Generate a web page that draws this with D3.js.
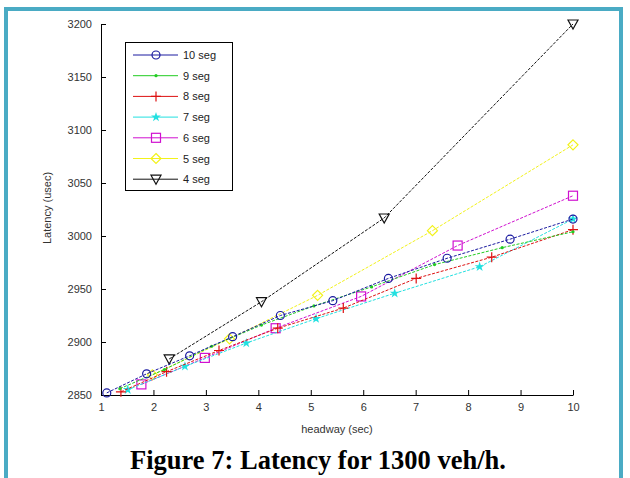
<!DOCTYPE html>
<html>
<head>
<meta charset="utf-8">
<script src="https://cdn.jsdelivr.net/npm/d3@7"></script>
<style>
body { margin:0; background:#ffffff; }
svg { display:block; }
</style>
</head>
<body>
<svg id="chart"></svg>
<script>
// the data, one array per series
var seg10X = [1.11,1.87,2.69,3.51,4.42,5.42,6.48,7.6,8.8,10];
var seg10Y = [2852,2870,2887,2905,2925,2939,2960,2979,2997,3016];
var seg9X = [1.36,2.21,3.11,4.06,5.06,6.16,7.36,8.65,10];
var seg9Y = [2856,2874,2896,2916,2934,2952,2973,2989,3004];
var seg8X = [1.38,2.25,3.25,4.37,5.62,7.01,8.45,10];
var seg8Y = [2853,2872,2892,2913,2932,2960,2980,3006];
var seg7X = [1.51,2.6,3.77,5.1,6.6,8.22,10];
var seg7Y = [2855,2877,2899,2922,2946,2971,3016];
var seg6X = [1.77,2.98,4.33,5.96,7.8,10];
var seg6Y = [2860,2885,2913,2943,2991,3038];
var seg5X = [1.98,3.45,5.13,7.32,10];
var seg5Y = [2869,2903,2944,3005,3086];
var seg4X = [2.3,4.06,6.4,10];
var seg4Y = [2884,2938,3017,3200];

var seriesNames = ["10 seg","9 seg","8 seg","7 seg","6 seg","5 seg","4 seg"];
var seriesX = [seg10X,seg9X,seg8X,seg7X,seg6X,seg5X,seg4X];
var seriesY = [seg10Y,seg9Y,seg8Y,seg7Y,seg6Y,seg5Y,seg4Y];
var seriesColors = ["#1a1aa0","#22cc22","#dd1111","#22e0e0","#d010d0","#f2f21a","#111111"];
var seriesMarkers = ["circle","dot","plus","star","square","diamond","triangle"];

var xTicks = [1,2,3,4,5,6,7,8,9,10];
var yTicks = [2850,2900,2950,3000,3050,3100,3150,3200];

var screen = {width:630, height:478};
var margins = {top:24, left:101, right:57, bottom:83};
var graph = {
    width:screen.width-margins.left-margins.right,
    height:screen.height-margins.top-margins.bottom
};

var svg = d3.select("#chart")
    .attr("width",screen.width)
    .attr("height",screen.height);

// teal frame round the figure (open at the bottom)
svg.append("rect")
    .attr("x",6).attr("y",9)
    .attr("width",615).attr("height",520)
    .attr("fill","none")
    .attr("stroke","#4aabc4")
    .attr("stroke-width",4);

var xScale = d3.scaleLinear().domain([1,10]).range([0,graph.width]);
var yScale = d3.scaleLinear().domain([2850,3200]).range([graph.height,0]);

var g = svg.append("g")
    .attr("transform","translate("+margins.left+","+margins.top+")");

// axes, matlab style ticks pointing inwards
var xAxis = d3.axisBottom(xScale).tickValues(xTicks).tickFormat(d3.format("d"))
    .tickSizeInner(-5).tickSizeOuter(0).tickPadding(8);
var yAxis = d3.axisLeft(yScale).tickValues(yTicks).tickFormat(d3.format("d"))
    .tickSizeInner(-5).tickSizeOuter(0).tickPadding(8);

var gx = g.append("g")
    .attr("transform","translate(0,"+graph.height+")")
    .call(xAxis);
var gy = g.append("g").call(yAxis);

[gx,gy].forEach(function(a)
{
    a.selectAll("text")
        .attr("font-family","Liberation Sans, Arial, sans-serif")
        .attr("font-size",11)
        .attr("fill","#333");
    a.select(".domain").attr("stroke","#000");
    a.selectAll(".tick line").attr("stroke","#000");
});
gy.selectAll("text").attr("dx",-1);

// axis titles
svg.append("text")
    .attr("x",margins.left+xScale(5.5))
    .attr("y",433)
    .attr("text-anchor","middle")
    .attr("font-family","Liberation Sans, Arial, sans-serif")
    .attr("font-size",11)
    .attr("fill","#333")
    .text("headway (sec)");

svg.append("text")
    .attr("transform","translate(51,208) rotate(-90)")
    .attr("text-anchor","middle")
    .attr("font-family","Liberation Sans, Arial, sans-serif")
    .attr("font-size",11)
    .attr("fill","#333")
    .text("Latency (usec)");

// draws one marker at (x,y)
var drawMarker = function(sel,type,color,x,y)
{
    if (type=="circle")
    {
        sel.append("circle").attr("cx",x).attr("cy",y).attr("r",4)
            .attr("fill","none").attr("stroke",color).attr("stroke-width",1.2);
    }
    else if (type=="dot")
    {
        sel.append("circle").attr("cx",x).attr("cy",y).attr("r",1.6)
            .attr("fill",color);
    }
    else if (type=="plus")
    {
        sel.append("path")
            .attr("d","M"+(x-5)+","+y+"H"+(x+5)+"M"+x+","+(y-5)+"V"+(y+5))
            .attr("stroke",color).attr("stroke-width",1.2);
    }
    else if (type=="star")
    {
        sel.append("path")
            .attr("transform","translate("+x+","+y+")")
            .attr("d",d3.symbol().type(d3.symbolStar).size(30)())
            .attr("fill",color);
    }
    else if (type=="square")
    {
        sel.append("rect").attr("x",x-4.5).attr("y",y-4.5)
            .attr("width",9).attr("height",9)
            .attr("fill","none").attr("stroke",color).attr("stroke-width",1.2);
    }
    else if (type=="diamond")
    {
        sel.append("path")
            .attr("d","M"+x+","+(y-5)+"L"+(x+5)+","+y+"L"+x+","+(y+5)+"L"+(x-5)+","+y+"Z")
            .attr("fill","none").attr("stroke",color).attr("stroke-width",1.2);
    }
    else
    {
        sel.append("path")
            .attr("d","M"+(x-5)+","+(y-4)+"L"+(x+5)+","+(y-4)+"L"+x+","+(y+5)+"Z")
            .attr("fill","none").attr("stroke",color).attr("stroke-width",1.2);
    }
};

var line = d3.line()
    .x(function(d){ return xScale(d[0]); })
    .y(function(d){ return yScale(d[1]); });

// draw series from the last to the first so 10 seg sits on top
for (var i=seriesNames.length-1; i>=0; i--)
{
    var pts = seriesX[i].map(function(x,j){ return [x,seriesY[i][j]]; });
    var sg = g.append("g");
    sg.append("path")
        .datum(pts)
        .attr("d",line)
        .attr("fill","none")
        .attr("stroke",seriesColors[i])
        .attr("stroke-width",1)
        .attr("stroke-dasharray","3,1.5");
    pts.forEach(function(p)
    {
        drawMarker(sg,seriesMarkers[i],seriesColors[i],xScale(p[0]),yScale(p[1]));
    });
}

// legend
var legend = svg.append("g");
legend.append("rect")
    .attr("x",125.5).attr("y",42.5)
    .attr("width",107).attr("height",148)
    .attr("fill","#fff")
    .attr("stroke","#000");

seriesNames.forEach(function(name,i)
{
    var ly = 55+i*20.7;
    legend.append("line")
        .attr("x1",133).attr("x2",178)
        .attr("y1",ly).attr("y2",ly)
        .attr("stroke",seriesColors[i]);
    drawMarker(legend,seriesMarkers[i],seriesColors[i],156,ly);
    legend.append("text")
        .attr("x",183).attr("y",ly+4)
        .attr("font-family","Liberation Sans, Arial, sans-serif")
        .attr("font-size",11)
        .attr("fill","#222")
        .text(name);
});

// figure caption
svg.append("text")
    .attr("x",318)
    .attr("y",469)
    .attr("text-anchor","middle")
    .attr("font-family","Liberation Serif, Times New Roman, serif")
    .attr("font-weight","bold")
    .attr("font-size",26.5)
    .attr("fill","#000")
    .text("Figure 7: Latency for 1300 veh/h.");
</script>
</body>
</html>
